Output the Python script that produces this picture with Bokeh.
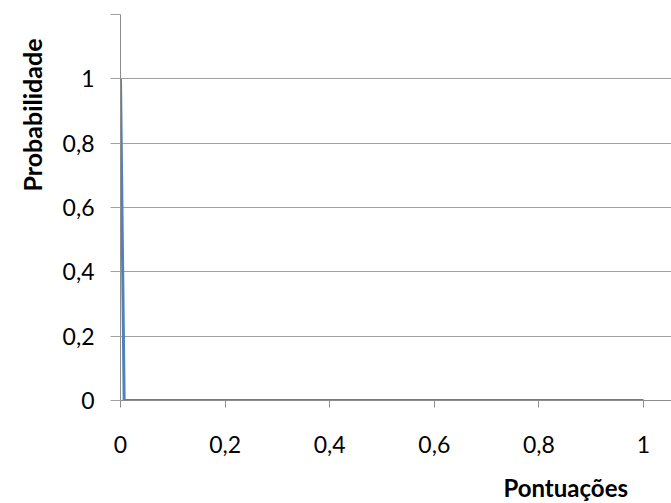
from bokeh.plotting import figure
from bokeh.models import Range1d, FixedTicker, Title, Div
from bokeh.layouts import column
from bokeh.embed import file_html
from bokeh.resources import INLINE

# Data
pontuacoes = [0.0, 0.007, 0.2, 0.4, 0.6, 0.8, 1.0]
probabilidade = [1.0, 0.0, 0.0, 0.0, 0.0, 0.0, 0.0]

x_ticks = [0.0, 0.2, 0.4, 0.6, 0.8, 1.0]
x_tick_labels = ["0", "0,2", "0,4", "0,6", "0,8", "1"]
y_ticks = [0.0, 0.2, 0.4, 0.6, 0.8, 1.0, 1.2]
y_tick_labels = ["0", "0,2", "0,4", "0,6", "0,8", "1", ""]

x_title = "Pontuações"
y_title = "Probabilidade"

FONT = "Lato"
GRID = "#a0a0a0"
AXIS = "#8c8c8c"
LINE = "#4f81bd"

p = figure(width=671, height=476, output_backend="svg", toolbar_location=None,
           x_range=Range1d(0, 1.0535), y_range=Range1d(0, 1.2),
           min_border_left=120, min_border_right=0, min_border_top=14,
           min_border_bottom=76)
p.outline_line_color = None
p.background_fill_color = "white"
p.border_fill_color = "white"

p.line(pontuacoes, probabilidade, line_color=LINE, line_width=3, line_join="round")

# x axis
xa = p.xaxis[0]
xa.ticker = FixedTicker(ticks=x_ticks)
xa.major_label_overrides = dict(zip(x_ticks, x_tick_labels))
xa.axis_line_color = AXIS
xa.major_tick_line_color = AXIS
xa.major_tick_in = 0
xa.major_tick_out = 7
xa.minor_tick_line_color = None
xa.major_label_text_font = FONT
xa.major_label_text_font_size = "23px"
xa.major_label_text_color = "black"
xa.major_label_standoff = 28

# y axis
ya = p.yaxis[0]
ya.ticker = FixedTicker(ticks=y_ticks)
ya.major_label_overrides = dict(zip(y_ticks, y_tick_labels))
ya.axis_line_color = AXIS
ya.major_tick_line_color = GRID
ya.major_tick_in = 0
ya.major_tick_out = 10
ya.minor_tick_line_color = None
ya.major_label_text_font = FONT
ya.major_label_text_font_size = "23px"
ya.major_label_text_color = "black"
ya.major_label_standoff = 16

p.xgrid.grid_line_color = None
p.ygrid.ticker = FixedTicker(ticks=y_ticks)
p.ygrid.grid_line_color = GRID
p.ygrid.grid_line_width = 1

p.add_layout(Title(text=y_title, align="right", offset=24, standoff=22,
                   vertical_align="top",
                   text_font=FONT, text_font_style="bold", text_font_size="25px",
                   text_color="black"), "left")

xlabel = Div(text=x_title, width=623, height=27,
             styles={"font-family": "Lato", "font-weight": "bold",
                     "font-size": "24px", "line-height": "14px",
                     "text-align": "right", "color": "black",
                     "background-color": "white"})

layout = column(p, xlabel, spacing=0)

open("out.html", "w").write(file_html(layout, INLINE))
